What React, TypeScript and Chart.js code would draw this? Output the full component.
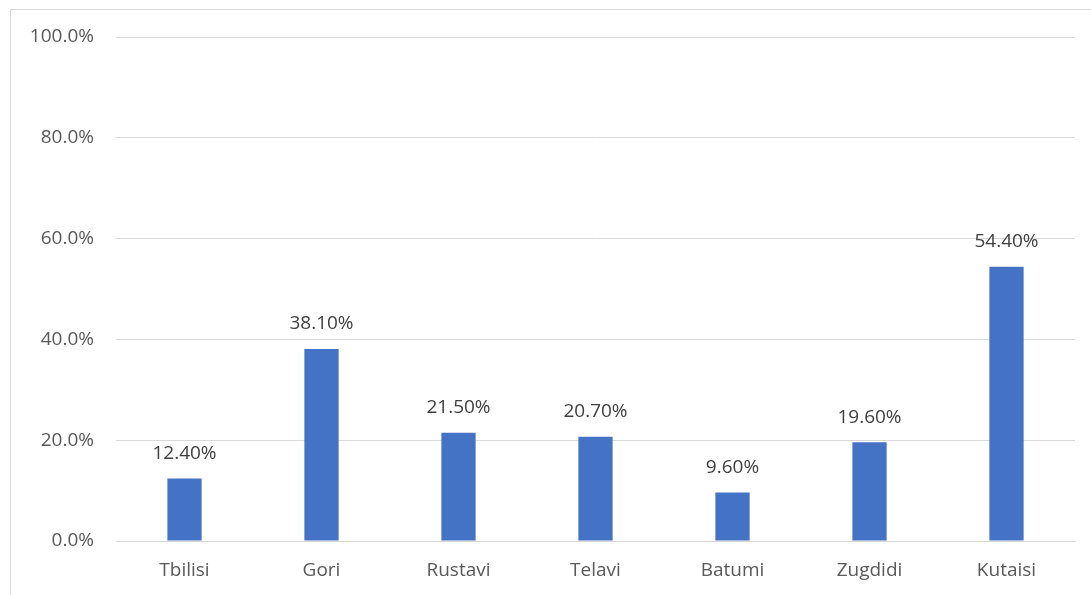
import React, { useEffect, useRef } from "react";
import { Chart, registerables } from "chart.js";

Chart.register(...registerables);

const categories = ["Tbilisi", "Gori", "Rustavi", "Telavi", "Batumi", "Zugdidi", "Kutaisi"];
const values = [12.4, 38.1, 21.5, 20.7, 9.6, 19.6, 54.4];
const valueLabels = ["12.40%", "38.10%", "21.50%", "20.70%", "9.60%", "19.60%", "54.40%"];

const FONT = "'Open Sans', sans-serif";
const FONT_SIZE = 19;

const dataLabelPlugin = {
  id: "dataLabels",
  afterDatasetsDraw(chart: any) {
    const ctx = chart.ctx;
    const meta = chart.getDatasetMeta(0);
    ctx.save();
    ctx.font = `${FONT_SIZE}px ${FONT}`;
    ctx.fillStyle = "#404040";
    ctx.textAlign = "center";
    ctx.textBaseline = "middle";
    meta.data.forEach((bar: any, i: number) => {
      ctx.fillText(valueLabels[i], bar.x, bar.y - 25);
    });
    ctx.restore();
  },
};

export default function App() {
  const ref = useRef<HTMLCanvasElement | null>(null);
  useEffect(() => {
    if (!ref.current) return;
    const chart = new Chart(ref.current, {
      type: "bar",
      data: {
        labels: categories,
        datasets: [
          {
            data: values,
            backgroundColor: "#4472c4",
            categoryPercentage: 1,
            barPercentage: 0.25,
          },
        ],
      },
      options: {
        animation: false,
        responsive: false,
        devicePixelRatio: 1,
        layout: { padding: { top: 27, right: 16, left: 0, bottom: 0 } },
        plugins: { legend: { display: false }, tooltip: { enabled: false } },
        scales: {
          x: {
            grid: { display: false, drawTicks: false },
            border: { display: true, color: "#d9d9d9", width: 1 },
            ticks: { color: "#595959", font: { family: FONT, size: FONT_SIZE }, padding: 18 },
            afterFit(scale: any) {
              scale.height = 55;
              scale.paddingLeft = 0;
              scale.paddingRight = 0;
            },
          },
          y: {
            min: 0,
            max: 100,
            grid: { color: "#d9d9d9", drawTicks: false },
            border: { display: false },
            ticks: {
              stepSize: 20,
              color: "#595959",
              font: { family: FONT, size: FONT_SIZE },
              padding: 22,
              callback: (v: any) => Number(v).toFixed(1) + "%",
            },
            afterFit(scale: any) {
              scale.width = 105;
              scale.paddingTop = 0;
              scale.paddingBottom = 0;
            },
          },
        },
      },
      plugins: [dataLabelPlugin],
    });
    return () => chart.destroy();
  }, []);
  return (
    <div
      style={{
        position: "absolute",
        left: 10,
        top: 9,
        width: 1100,
        height: 600,
        border: "1px solid #d9d9d9",
        boxSizing: "border-box",
        overflow: "hidden",
        background: "#fff",
      }}
    >
      <canvas ref={ref} width={1080} height={586} style={{ display: "block" }} />
    </div>
  );
}
